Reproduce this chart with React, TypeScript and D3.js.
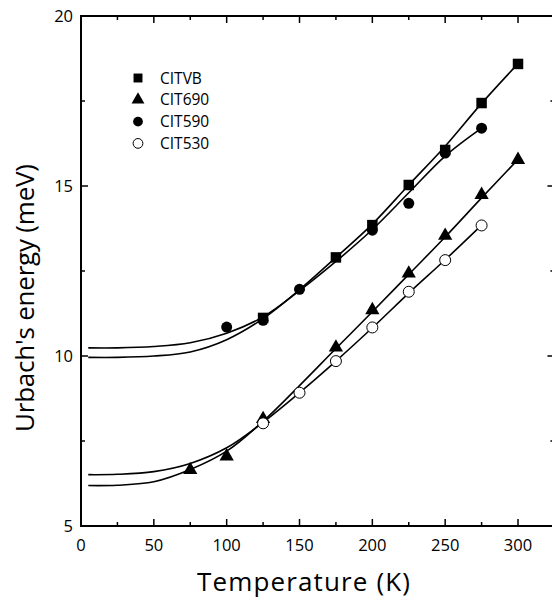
import * as d3 from "d3";

// measured points (K, meV)
const vbT = [125, 175, 200, 225, 250, 275, 300];
const vbE = [11.12, 12.9, 13.85, 15.03, 16.06, 17.44, 18.59];
const t690T = [75, 100, 125, 175, 200, 225, 250, 275, 300];
const t690E = [6.65, 7.05, 8.15, 10.25, 11.35, 12.43, 13.54, 14.74, 15.77];
const t590T = [100, 125, 150, 200, 225, 250, 275];
const t590E = [10.85, 11.05, 11.96, 13.7, 14.49, 15.97, 16.7];
const t530T = [125, 150, 175, 200, 225, 250, 275];
const t530E = [8.02, 8.92, 9.85, 10.84, 11.89, 12.82, 13.84];

// fitted curves
const fitT = [5, 25, 50, 75, 100, 125, 150, 175, 200, 225, 250, 275, 300];
const fitVB = [9.96, 9.96, 10.0, 10.12, 10.48, 11.1, 11.95, 12.9, 13.88, 15.03, 16.17, 17.43, 18.6];
const fit590 = [10.24, 10.24, 10.28, 10.39, 10.67, 11.15, 11.92, 12.78, 13.72, 14.8, 15.88, 16.7];
const fit690 = [6.19, 6.2, 6.3, 6.66, 7.2, 8.08, 9.13, 10.22, 11.3, 12.4, 13.5, 14.65, 15.78];
const fit530 = [6.51, 6.52, 6.6, 6.84, 7.3, 8.05, 8.92, 9.85, 10.83, 11.85, 12.83, 13.85];

const xTicks = [0, 50, 100, 150, 200, 250, 300];
const xMinor = [25, 75, 125, 175, 225, 275];
const yTicks = [5, 10, 15, 20];
const yMinor = [7.5, 12.5, 17.5];

const legendNames = ["CITVB", "CIT690", "CIT590", "CIT530"];

const W = 552;
const H = 598;
const left = 81;
const top = 16;
const bottom = 526;

const x = d3.scaleLinear().domain([0, 325]).range([left, left + 325 * 1.4567]);
const y = d3.scaleLinear().domain([5, 20]).range([bottom, top]);
const right = x(325);

const font = "'Open Sans', 'Liberation Sans', sans-serif";

const line = d3
  .line<[number, number]>()
  .x((d) => x(d[0]))
  .y((d) => y(d[1]))
  .curve(d3.curveCatmullRom.alpha(0.5));

const zip = (ts: number[], es: number[]): [number, number][] =>
  es.map((e, i) => [ts[i], e]);

const sym = {
  square: d3.symbol(d3.symbolSquare, 110)(),
  triangle: d3.symbol(d3.symbolTriangle, 88)(),
  circle: d3.symbol(d3.symbolCircle, 95)(),
};
const legSym = {
  square: d3.symbol(d3.symbolSquare, 80)(),
  triangle: d3.symbol(d3.symbolTriangle, 72)(),
  circle: d3.symbol(d3.symbolCircle, 75)(),
};

export default function App() {
  const series = [
    { T: vbT, E: vbE, shape: "square", open: false },
    { T: t690T, E: t690E, shape: "triangle", open: false },
    { T: t590T, E: t590E, shape: "circle", open: false },
    { T: t530T, E: t530E, shape: "circle", open: true },
  ];
  const fits = [fitVB, fit590, fit690, fit530];

  return (
    <svg
      width={W}
      height={H}
      style={{ position: "absolute", left: 0, top: 0, background: "#fff" }}
    >
      {/* fit curves */}
      {fits.map((f, i) => (
        <path
          key={"f" + i}
          d={line(zip(fitT, f)) || ""}
          fill="none"
          stroke="#000"
          strokeWidth={1.6}
        />
      ))}

      {/* data markers */}
      {series.map((s, i) =>
        s.E.map((e, j) => (
          <path
            key={`p${i}-${j}`}
            d={(sym as any)[s.shape]}
            transform={`translate(${x(s.T[j])},${y(e)})`}
            fill={s.open ? "#fff" : "#000"}
            stroke="#000"
            strokeWidth={s.open ? 1 : 0}
          />
        ))
      )}

      {/* frame */}
      <g stroke="#000" strokeWidth={2} fill="none">
        <line x1={left} x2={left} y1={top - 1} y2={bottom + 1} />
        <line x1={left} x2={right} y1={bottom} y2={bottom} />
        <line x1={left} x2={right} y1={top} y2={top} />
        <line x1={right} x2={right} y1={top} y2={bottom} />
      </g>

      {/* ticks */}
      <g stroke="#000" strokeWidth={1.5}>
        {xTicks.map((t) => (
          <g key={"xt" + t}>
            <line x1={x(t)} x2={x(t)} y1={bottom} y2={bottom - 7} />
            <line x1={x(t)} x2={x(t)} y1={top} y2={top + 7} />
          </g>
        ))}
        {xMinor.map((t) => (
          <g key={"xm" + t}>
            <line x1={x(t)} x2={x(t)} y1={bottom} y2={bottom - 4} />
            <line x1={x(t)} x2={x(t)} y1={top} y2={top + 4} />
          </g>
        ))}
        {yTicks.map((t) => (
          <g key={"yt" + t}>
            <line x1={left} x2={left + 7} y1={y(t)} y2={y(t)} />
            <line x1={right} x2={right - 7} y1={y(t)} y2={y(t)} />
          </g>
        ))}
        {yMinor.map((t) => (
          <g key={"ym" + t}>
            <line x1={left} x2={left + 4} y1={y(t)} y2={y(t)} />
            <line x1={right} x2={right - 4} y1={y(t)} y2={y(t)} />
          </g>
        ))}
      </g>

      {/* tick labels */}
      <g fontFamily={font} fontSize={16.5} fill="#000">
        {xTicks.map((t) => (
          <text key={"xl" + t} x={x(t)} y={bottom + 25} textAnchor="middle">
            {t}
          </text>
        ))}
        {yTicks.map((t) => (
          <text key={"yl" + t} x={left - 8} y={y(t) + 6} textAnchor="end">
            {t}
          </text>
        ))}
      </g>

      {/* axis titles */}
      <text
        x={197}
        y={591}
        fontFamily={font}
        fontSize={26}
        textLength={213}
        lengthAdjust="spacing"
      >
        Temperature (K)
      </text>
      <text
        transform={`translate(34,432) rotate(-90)`}
        fontFamily={font}
        fontSize={26}
        textLength={268}
        lengthAdjust="spacing"
      >
        Urbach's energy (meV)
      </text>

      {/* legend */}
      <g fontFamily={font} fontSize={15.5}>
        {series.map((s, i) => (
          <g key={"lg" + i} transform={`translate(138,${78 + i * 21.8})`}>
            <path
              d={(legSym as any)[s.shape]}
              fill={s.open ? "#fff" : "#000"}
              stroke="#000"
              strokeWidth={s.open ? 1 : 0}
            />
            <text x={22} y={5.5}>
              {legendNames[i]}
            </text>
          </g>
        ))}
      </g>
    </svg>
  );
}
